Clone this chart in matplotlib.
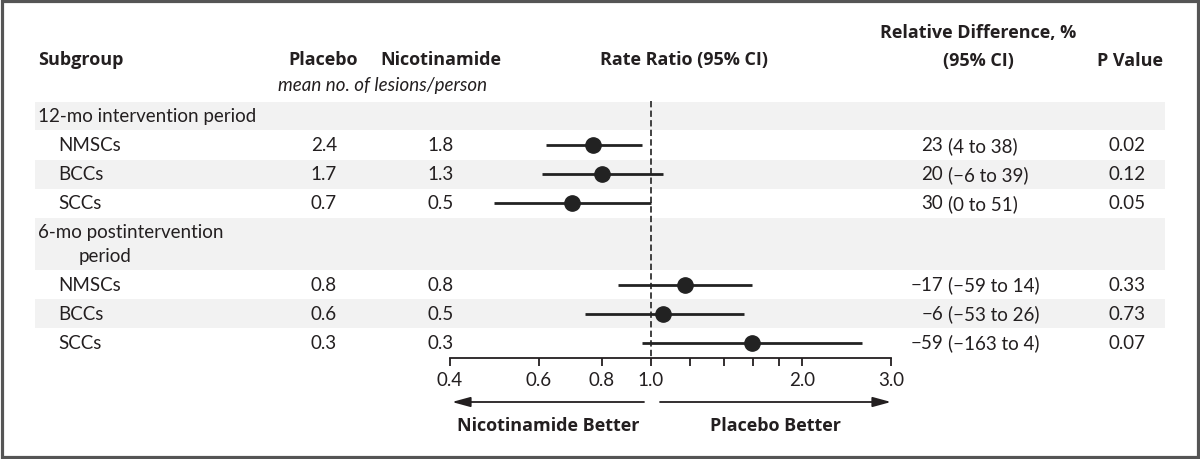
import matplotlib
matplotlib.use("Agg")
import matplotlib.pyplot as plt
from matplotlib.patches import Rectangle, FancyArrowPatch

# ---------------- data ----------------
periods = ["12-mo intervention period", "6-mo postintervention"]
period2_cont = "period"
subgroups = ["NMSCs", "BCCs", "SCCs", "NMSCs", "BCCs", "SCCs"]
placebo = ["2.4", "1.7", "0.7", "0.8", "0.6", "0.3"]
nicotinamide = ["1.8", "1.3", "0.5", "0.8", "0.5", "0.3"]
rate_ratio = [0.77, 0.80, 0.70, 1.17, 1.06, 1.59]
ci_low = [0.62, 0.61, 0.49, 0.86, 0.74, 0.96]
ci_high = [0.96, 1.06, 1.00, 1.59, 1.53, 2.63]
rel_diff = ["23", "20", "30", "\u221217", "\u22126", "\u221259"]
rel_ci = ["(4 to 38)", "(\u22126 to 39)", "(0 to 51)",
          "(\u221259 to 14)", "(\u221253 to 26)", "(\u2212163 to 4)"]
p_values = ["0.02", "0.12", "0.05", "0.33", "0.73", "0.07"]
tick_values = [0.4, 0.6, 0.8, 1.0, 2.0, 3.0]
tick_labels = ["0.4", "0.6", "0.8", "1.0", "2.0", "3.0"]
minor_ticks = [1.2, 1.4, 1.6, 1.8]

# ---------------- layout ----------------
W, H = 1200, 460
FONT = "Lato"
BFONT = "Open Sans"
FS = 13.5
BFS = 13
TXT = "#231f20"
BAND = "#f2f2f2"

period_y = [116.5, 233.0]
row_y = [146.0, 175.0, 204.0, 285.5, 314.5, 343.5]
bands = [(102.5, 131), (160.5, 189.5), (218.5, 271), (300, 329)]

fig = plt.figure(figsize=(W / 100, H / 100), dpi=100)
bg = fig.add_axes([0, 0, 1, 1])
bg.set_xlim(0, W)
bg.set_ylim(H, 0)
bg.axis("off")

for y0, y1 in bands:
    bg.add_patch(Rectangle((35, y0), 1165 - 35, y1 - y0, facecolor=BAND,
                           edgecolor="none", zorder=0))

bg.add_patch(Rectangle((1.5, 1.5), W - 4, H - 4, facecolor="none",
                       edgecolor="#555555", lw=2.3, zorder=5))

def t(x, y, s, ha="left", bold=False, italic=False):
    bg.text(x, y, s, ha=ha, va="center",
            fontsize=BFS if bold else FS, color=TXT,
            family=BFONT if bold else FONT,
            fontweight="bold" if bold else "normal",
            fontstyle="italic" if italic else "normal")

# headers
t(38, 60, "Subgroup", bold=True)
t(323.5, 60, "Placebo", ha="center", bold=True)
t(441, 60, "Nicotinamide", ha="center", bold=True)
t(382.5, 85, "mean no. of lesions/person", ha="center", italic=True)
t(684.5, 60, "Rate Ratio (95% CI)", ha="center", bold=True)
t(978, 33, "Relative Difference, %", ha="center", bold=True)
t(978, 61, "(95% CI)", ha="center", bold=True)
t(1130, 61, "P Value", ha="center", bold=True)

# period labels
t(38, period_y[0], periods[0])
t(38, period_y[1], periods[1])
t(79, period_y[1] + 24, period2_cont)

# rows
for i, y in enumerate(row_y):
    t(58, y, subgroups[i])
    t(324, y, placebo[i], ha="center")
    t(440.5, y, nicotinamide[i], ha="center")
    t(943, y, rel_diff[i], ha="right")
    t(948, y, rel_ci[i], ha="left")
    t(1127, y, p_values[i], ha="center")

# ---------------- forest axes ----------------
x0, x1 = 450, 891
ytop, ybot = 100, 358.5
ax = fig.add_axes([x0 / W, (H - ybot) / H, (x1 - x0) / W, (ybot - ytop) / H])
ax.set_facecolor("none")
ax.set_xscale("log")
ax.set_xlim(tick_values[0], tick_values[-1])
ax.set_ylim(ybot, ytop)
for s in ["top", "left", "right"]:
    ax.spines[s].set_visible(False)
ax.spines["bottom"].set_linewidth(1.3)
ax.spines["bottom"].set_color(TXT)
ax.set_yticks([])
ax.set_xticks(tick_values)
ax.set_xticklabels(tick_labels)
ax.set_xticks(minor_ticks, minor=True)
ax.set_xticklabels([], minor=True)
ax.tick_params(axis="x", which="both", direction="out", length=6, width=1.3,
               color=TXT, pad=4, labelsize=FS, labelcolor=TXT)
for lab in ax.get_xticklabels():
    lab.set_family(FONT)

ax.plot([1.0, 1.0], [102, ybot], color="#333333", lw=1.3,
        linestyle=(0, (3.5, 1.8)), zorder=2, clip_on=False)
ax.hlines(row_y, ci_low, ci_high, color="#222222", lw=2.0, zorder=3)
ax.plot(rate_ratio, row_y, "o", color="#222222", ms=11, zorder=4)

# arrows
ay = 403
for xa, xb in [(644, 452), (660, 891)]:
    bg.add_patch(FancyArrowPatch((xa, ay), (xb, ay),
                                 arrowstyle="-|>,head_length=1.1,head_width=0.3",
                                 mutation_scale=10, color=TXT, lw=1.3,
                                 shrinkA=0, shrinkB=0))
t(548, 426, "Nicotinamide Better", ha="center", bold=True)
t(776, 426, "Placebo Better", ha="center", bold=True)

fig.savefig("out.png", dpi=100)
